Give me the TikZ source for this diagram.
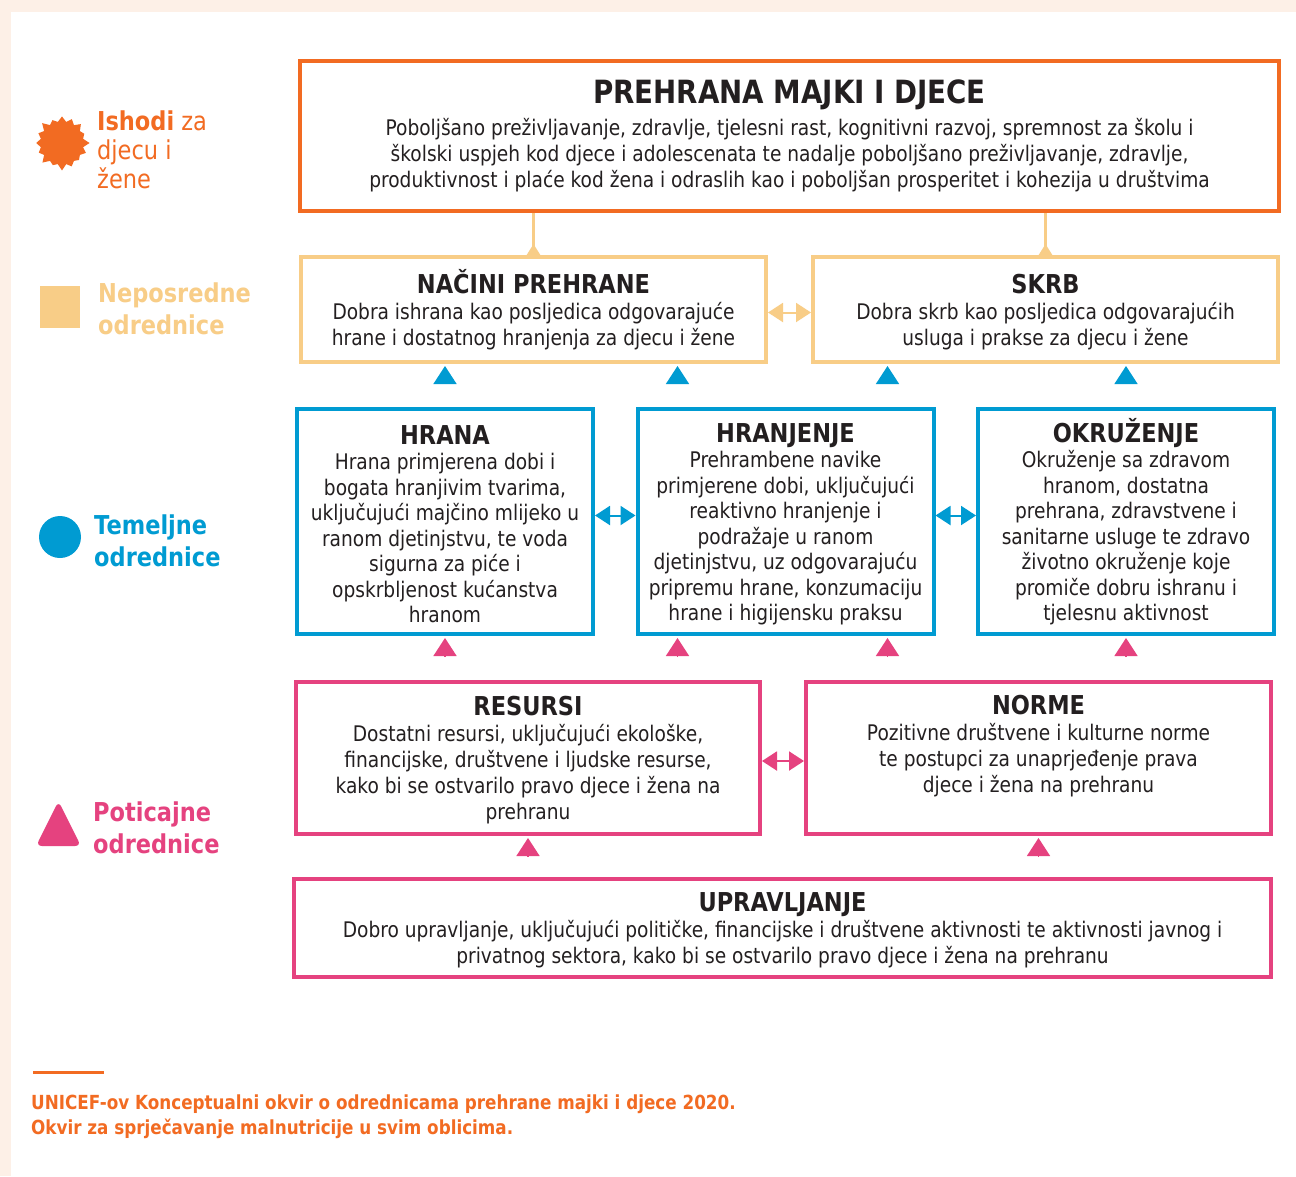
\documentclass[tikz,border=0pt]{standalone}
\usepackage{fontspec}
\setmainfont{DejaVu Sans}[FakeStretch=0.865]
\usetikzlibrary{arrows.meta,shapes.geometric,shapes.symbols}

\definecolor{ishodi}{HTML}{F26B22}
\definecolor{neposredne}{HTML}{F8CD87}
\definecolor{temeljne}{HTML}{009BD2}
\definecolor{poticajne}{HTML}{E5427F}
\definecolor{tekst}{HTML}{231F20}
\definecolor{pozadina}{HTML}{FDF0E7}

\newcommand{\naslov}[1]{{\bfseries\fontsize{26}{26}\selectfont\vphantom{ŽJ}#1}}

\begin{document}
\begin{tikzpicture}[x=1pt,y=-1pt,
  okvir/.style={draw,line width=4pt,fill=white,text=tekst,align=center,inner sep=0pt,
    font=\fontsize{21.5}{26}\selectfont},
  legenda/.style={anchor=west,align=left,inner sep=0pt,font=\bfseries\fontsize{26}{32}\selectfont},
  strelica/.style={-{Triangle[width=23pt,length=18pt]},line width=1.5pt,shorten >=2pt,shorten <=#1},
  dvostruka/.style={{Triangle[width=19pt,length=15pt]}-{Triangle[width=19pt,length=15pt]},line width=2pt}]

\useasboundingbox (0,0) rectangle (1296,1176);
\fill[pozadina] (0,0) rectangle (1296,1176);
\fill[white] (11,12) rectangle (1296,1176);

% ---------- legenda ----------
\node[starburst,starburst points=16,starburst point height=7pt,fill=ishodi,
  minimum size=57pt,inner sep=0pt] (zvijezda) at (62,143) {};
\node[legenda,text=ishodi,font=\fontsize{26}{29}\selectfont] (ishodi) at (97,150)
  {\textbf{Ishodi} za\\djecu i\\žene};

\node[fill=neposredne,minimum width=40pt,minimum height=42pt,inner sep=0pt] (kvadrat) at (60,307) {};
\node[legenda,text=neposredne] (neposredne) at (98,309) {Neposredne\\odrednice};

\node[circle,fill=temeljne,minimum size=42pt,inner sep=0pt] (krug) at (60,537) {};
\node[legenda,text=temeljne] (temeljne) at (94,541) {Temeljne\\odrednice};

\fill[poticajne,rounded corners=6pt] (36,846) -- (58.5,801) -- (81,846) -- cycle;
\node[legenda,text=poticajne] (poticajne) at (93,828) {Poticajne\\odrednice};

% ---------- ishodi ----------
\node[okvir,draw=ishodi,minimum width=979pt,minimum height=150pt] (prehrana) at (789.5,136)
  {{\bfseries\fontsize{32}{32}\selectfont PREHRANA MAJKI I DJECE}\\[6pt]
   Poboljšano preživljavanje, zdravlje, tjelesni rast, kognitivni razvoj, spremnost za školu i\\
   školski uspjeh kod djece i adolescenata te nadalje poboljšano preživljavanje, zdravlje,\\
   produktivnost i plaće kod žena i odraslih kao i poboljšan prosperitet i kohezija u društvima};

% ---------- neposredne odrednice ----------
\node[okvir,draw=neposredne,minimum width=465pt,minimum height=105pt] (nacini) at (533.5,309.5)
  {\naslov{NAČINI PREHRANE}\\
   Dobra ishrana kao posljedica odgovarajuće\\
   hrane i dostatnog hranjenja za djecu i žene};
\node[okvir,draw=neposredne,minimum width=465pt,minimum height=105pt] (skrb) at (1045.5,309.5)
  {\naslov{SKRB}\\
   Dobra skrb kao posljedica odgovarajućih\\
   usluga i prakse za djecu i žene};

% ---------- temeljne odrednice ----------
\node[okvir,draw=temeljne,minimum width=296pt,minimum height=225pt,
  font=\fontsize{21.5}{25.5}\selectfont] (hrana) at (445,521.5)
  {\naslov{HRANA}\\
   Hrana primjerena dobi i\\
   bogata hranjivim tvarima,\\
   uključujući majčino mlijeko u\\
   ranom djetinjstvu, te voda\\
   sigurna za piće i\\
   opskrbljenost kućanstva\\
   hranom};
\node[okvir,draw=temeljne,minimum width=296pt,minimum height=225pt,
  font=\fontsize{21.5}{25.5}\selectfont] (hranjenje) at (785.5,521.5)
  {\naslov{HRANJENJE}\\
   Prehrambene navike\\
   primjerene dobi, uključujući\\
   reaktivno hranjenje i\\
   podražaje u ranom\\
   djetinjstvu, uz odgovarajuću\\
   pripremu hrane, konzumaciju\\
   hrane i higijensku praksu};
\node[okvir,draw=temeljne,minimum width=296pt,minimum height=225pt,
  font=\fontsize{21.5}{25.5}\selectfont] (okruzenje) at (1126,521.5)
  {\naslov{OKRUŽENJE}\\
   Okruženje sa zdravom\\
   hranom, dostatna\\
   prehrana, zdravstvene i\\
   sanitarne usluge te zdravo\\
   životno okruženje koje\\
   promiče dobru ishranu i\\
   tjelesnu aktivnost};

% ---------- poticajne odrednice ----------
\node[okvir,draw=poticajne,minimum width=464pt,minimum height=152pt] (resursi) at (528,758)
  {\naslov{RESURSI}\\
   Dostatni resursi, uključujući ekološke,\\
   financijske, društvene i ljudske resurse,\\
   kako bi se ostvarilo pravo djece i žena na\\
   prehranu};
\node[okvir,draw=poticajne,minimum width=465pt,minimum height=152pt] (norme) at (1038.5,758)
  {\naslov{NORME}\\
   Pozitivne društvene i kulturne norme\\
   te postupci za unaprjeđenje prava\\
   djece i žena na prehranu\\
   \strut};
\node[okvir,draw=poticajne,minimum width=977pt,minimum height=98pt] (upravljanje) at (782.5,928)
  {\naslov{UPRAVLJANJE}\\
   Dobro upravljanje, uključujući političke, financijske i društvene aktivnosti te aktivnosti javnog i\\
   privatnog sektora, kako bi se ostvarilo pravo djece i žena na prehranu};

% ---------- veze ----------
\draw[neposredne,line width=2.5pt,{Triangle[reversed,width=13pt,length=11pt]}-]
  (nacini.north) -- (nacini.north |- prehrana.south);
\draw[neposredne,line width=2.5pt,{Triangle[reversed,width=13pt,length=11pt]}-]
  (skrb.north) -- (skrb.north |- prehrana.south);
\draw[dvostruka,neposredne] ([yshift=-3pt]nacini.east) -- ([yshift=-3pt]skrb.west);

\draw[strelica=24pt,temeljne] (hrana.north) -- (hrana.north |- nacini.south);
\draw[strelica=24pt,temeljne] ([xshift=-108pt]hranjenje.north) -- ([xshift=-108pt]hranjenje.north |- nacini.south);
\draw[strelica=24pt,temeljne] ([xshift=102pt]hranjenje.north) -- ([xshift=102pt]hranjenje.north |- skrb.south);
\draw[strelica=24pt,temeljne] (okruzenje.north) -- (okruzenje.north |- skrb.south);
\draw[dvostruka,temeljne] ([yshift=6pt]hrana.east) -- ([yshift=6pt]hranjenje.west);
\draw[dvostruka,temeljne] ([yshift=6pt]hranjenje.east) -- ([yshift=6pt]okruzenje.west);

\draw[strelica=24pt,poticajne] (hrana.south |- resursi.north) -- (hrana.south);
\draw[strelica=24pt,poticajne] ([xshift=-108pt]hranjenje.south |- resursi.north) -- ([xshift=-108pt]hranjenje.south);
\draw[strelica=24pt,poticajne] ([xshift=102pt]hranjenje.south |- norme.north) -- ([xshift=102pt]hranjenje.south);
\draw[strelica=24pt,poticajne] (okruzenje.south |- norme.north) -- (okruzenje.south);
\draw[dvostruka,poticajne] ([yshift=-3pt]resursi.east) -- ([yshift=-3pt]norme.west);

\draw[strelica=21pt,poticajne] (resursi.south |- upravljanje.north) -- (resursi.south);
\draw[strelica=21pt,poticajne] (norme.south |- upravljanje.north) -- (norme.south);

% ---------- izvor ----------
\draw[ishodi,line width=3pt] (33,1072) -- (104,1072);
\node[anchor=north west,align=left,inner sep=0pt,text=ishodi,font=\bfseries\fontsize{19.4}{25}\selectfont]
  (izvor) at (31,1095)
  {UNICEF-ov Konceptualni okvir o odrednicama prehrane majki i djece 2020.\\
   Okvir za sprječavanje malnutricije u svim oblicima.};

\end{tikzpicture}
\end{document}
